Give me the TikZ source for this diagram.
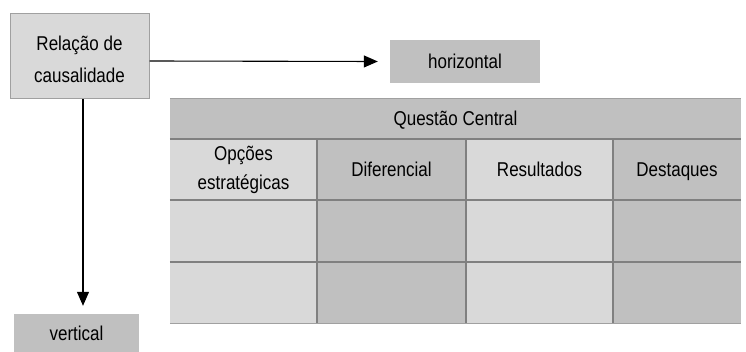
\documentclass[tikz,border=0pt]{standalone}
\usepackage{fontspec}
\setmainfont[FakeStretch=0.85]{Liberation Sans}
\usetikzlibrary{arrows.meta}
\definecolor{cellLight}{HTML}{D9D9D9}
\definecolor{cellDark}{HTML}{C0C0C0}
\definecolor{gridGray}{HTML}{808080}
\definecolor{edgeGray}{HTML}{A0A0A0}
\begin{document}
\begin{tikzpicture}[x=1pt,y=-1pt,
  every node/.style={font=\fontsize{20}{29}\selectfont, align=center, inner sep=0pt},
  oneline/.style={text height=14pt, text depth=0pt},
  lightcell/.style={fill=cellLight},
  darkcell/.style={fill=cellDark},
  causebox/.style={fill=cellLight, draw=edgeGray, line width=1pt},
  gridline/.style={draw=gridGray, line width=1.6pt},
  arr/.style={line width=1.1pt, -{Triangle[length=14pt,width=12pt]}}]
\useasboundingbox (0,0) rectangle (746,352);

% boxes with arrows
\node[causebox, minimum width=139, minimum height=85, font=\fontsize{20}{32}\selectfont] (rel) at (79.5,56.5) {\rule{0pt}{20.5pt}Relação de\\causalidade};
\node[darkcell, oneline, minimum width=150, minimum height=43] (hor) at (465,61.5) {horizontal};
\node[darkcell, oneline, minimum width=125, minimum height=38] (vert) at (76.5,333) {vertical};

\draw[arr] ([yshift=-4.5pt]rel.east) -- ([xshift=-12pt]hor.west);
\draw[arr] ([xshift=3.5pt]rel.south) -- ([xshift=6.5pt,yshift=8pt]vert.north);

% table: header row
\node[darkcell, oneline, minimum width=571, minimum height=40] (head) at (455.5,119) {Questão Central};

% column header row
\node[lightcell, minimum width=147, minimum height=61] (c1) at (243.5,169.5) {\rule{0pt}{16pt}Opções\\estratégicas};
\node[darkcell, oneline, minimum width=149, minimum height=61] (c2) at (391.5,169.5) {Diferencial};
\node[lightcell, oneline, minimum width=147, minimum height=61] (c3) at (539.5,169.5) {Resultados};
\node[darkcell, oneline, minimum width=128, minimum height=61] (c4) at (677,169.5) {Destaques};

% empty body rows
\node[lightcell, minimum width=147, minimum height=62] (r1c1) at (243.5,231) {};
\node[darkcell, minimum width=149, minimum height=62] (r1c2) at (391.5,231) {};
\node[lightcell, minimum width=147, minimum height=62] (r1c3) at (539.5,231) {};
\node[darkcell, minimum width=128, minimum height=62] (r1c4) at (677,231) {};
\node[lightcell, minimum width=147, minimum height=61] (r2c1) at (243.5,292.5) {};
\node[darkcell, minimum width=149, minimum height=61] (r2c2) at (391.5,292.5) {};
\node[lightcell, minimum width=147, minimum height=61] (r2c3) at (539.5,292.5) {};
\node[darkcell, minimum width=128, minimum height=61] (r2c4) at (677,292.5) {};

% grid lines
\draw[gridline] (head.south west) -- (head.south east);
\draw[gridline] (c1.south west) -- (c4.south east);
\draw[gridline] (r1c1.south west) -- (r1c4.south east);
\draw[gridline] (c1.north east) -- (r2c1.south east);
\draw[gridline] (c2.north east) -- (r2c2.south east);
\draw[gridline] (c3.north east) -- (r2c3.south east);
\draw[draw=edgeGray, line width=1pt] (head.north west) -- (head.north east);
\draw[draw=edgeGray, line width=1pt] (r2c1.south west) -- (r2c4.south east);
\end{tikzpicture}
\end{document}
